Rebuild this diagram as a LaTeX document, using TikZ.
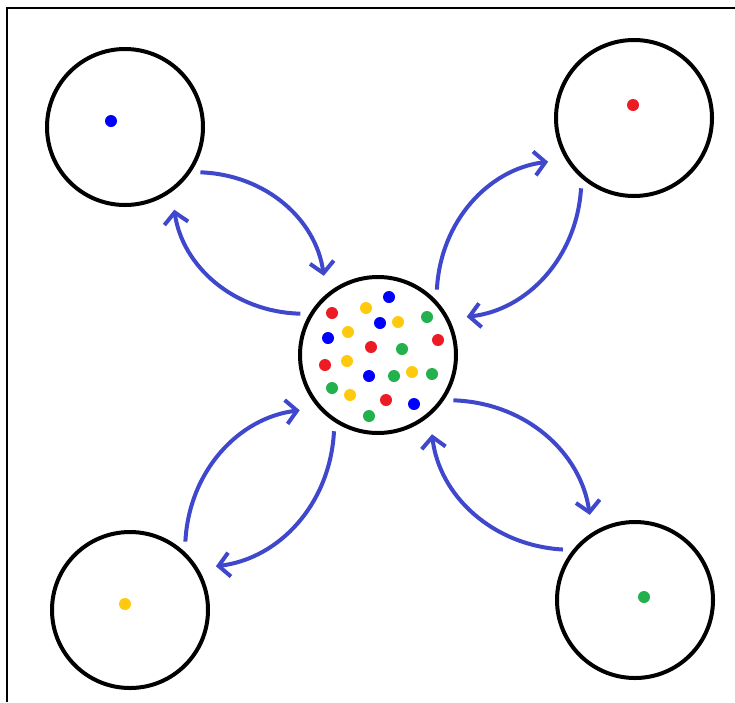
\documentclass[tikz,border=0pt]{standalone}
\usepackage{tikz}
\usepackage{xcolor}
\usetikzlibrary{arrows.meta}
\definecolor{flowblue}{HTML}{3F48CC}
\definecolor{dotred}{HTML}{ED1C24}
\definecolor{dotyellow}{HTML}{FFC90E}
\definecolor{dotgreen}{HTML}{22B14C}
\definecolor{dotblue}{HTML}{0000FF}

\begin{document}
\begin{tikzpicture}[
        x=1pt, y=-1pt,
        cell/.style={
          draw,
          circle,
          line width=4pt,
          minimum size=156pt,
          inner sep=0pt,
          outer sep=10pt
        },
        arrow/.style={
          -{Straight Barb[length=11pt,width=24pt]},
          line width=4pt,
          flowblue,
          bend left=40,
          shorten >=9pt
        }
      ]

      \useasboundingbox (0,0) rectangle (735,702);
      \draw[line width=2pt] (7,702) -- (7,8) -- (735,8);

      \node[cell] (tl) at (125,127) {};
      \node[cell] (tr) at (634,118) {};
      \node[cell] (bl) at (130,610) {};
      \node[cell] (br) at (635,600) {};
      \node[cell] (hub) at (378,355) {};

      % one colour in each outer cell
      \fill[dotblue] (111,121) circle (6);
      \fill[dotred] (633,105) circle (6);
      \fill[dotyellow] (125,604) circle (6);
      \fill[dotgreen] (644,597) circle (6);

      % mixed colours in the hub
      \fill[dotred] (332,313) circle (6) (438,340) circle (6) (371,347) circle (6)
        (325,365) circle (6) (386,400) circle (6);
      \fill[dotyellow] (366,308) circle (6) (398,322) circle (6) (348,332) circle (6)
        (347,361) circle (6) (412,372) circle (6) (350,395) circle (6);
      \fill[dotblue] (389,297) circle (6) (380,323) circle (6) (328,338) circle (6)
        (369,376) circle (6) (414,404) circle (6);
      \fill[dotgreen] (427,317) circle (6) (402,349) circle (6) (394,376) circle (6)
        (432,374) circle (6) (332,388) circle (6) (369,416) circle (6);

      \draw[arrow] (tl.-31) to (hub.127);
      \draw[arrow] (hub.152) to (tl.-57);
      \draw[arrow] (hub.48) to (tr.209);
      \draw[arrow] (tr.-127) to (hub.25);
      \draw[arrow] (bl.51) to (hub.-142);
      \draw[arrow] (hub.-120) to (bl.29);
      \draw[arrow] (hub.-31) to (br.120);
      \draw[arrow] (br.145) to (hub.-53);

      \end{tikzpicture}
\end{document}
